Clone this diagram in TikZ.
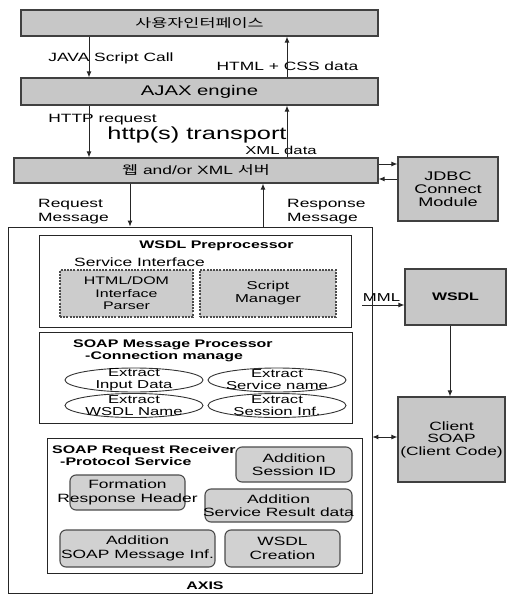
\documentclass[tikz,border=0pt]{standalone}
\usepackage{fontspec}
\setmainfont{Liberation Sans}[FakeStretch=1.45]
\newfontfamily\krfont{Noto Sans CJK KR}[FakeStretch=1.45]
\usetikzlibrary{calc,arrows.meta}
\tikzset{
  layer/.style={draw=black!75, fill=black!22, line width=1.2pt, inner sep=0pt, align=center, font=\fontsize{12}{13}\selectfont},
  frame/.style={draw=black!85, line width=0.8pt, inner sep=0pt},
  dbox/.style={draw=black!70, fill=black!20, line width=1.1pt, dash pattern=on 2pt off 1.2pt, inner sep=0pt, align=center, font=\fontsize{11}{12.5}\selectfont},
  rbox/.style={draw=black!70, fill=black!18, line width=1.1pt, rounded corners=6pt, inner sep=0pt},
  ell/.style={draw=black!80, line width=0.9pt},
  txt/.style={font=\fontsize{12}{13.5}\selectfont, align=center, inner sep=0pt},
  small/.style={font=\fontsize{11.5}{12}\selectfont, align=center, inner sep=0pt},
  title/.style={font=\bfseries\fontsize{11}{12}\selectfont, align=left, inner sep=0pt},
  arr/.style={-{Latex[length=6pt,width=5pt]}, line width=0.9pt, black!85},
}
\newcommand{\procbox}[5]{\node[rbox, minimum width=#3, minimum height=#4] (#1) at (#2) {};
  \node[txt] (#1-t) at (#1) {#5};}
\newcommand{\extract}[3]{\draw[ell] (#2) ellipse [x radius=69, y radius=12];
  \node[small] (#1) at (#2) {#3};}

\begin{document}
\begin{tikzpicture}[x=1pt, y=-1pt]
    \useasboundingbox (0,0) rectangle (506,596);
    % client side layers
    \node[layer, minimum width=357, minimum height=26] (ui) at (199.5,23) {\krfont 사용자인터페이스};
    \node[layer, minimum width=357, minimum height=27, font=\fontsize{14}{16}\selectfont] (ajax) at (199.5,91.5) {AJAX engine};
    \node[layer, minimum width=364, minimum height=25] (server) at (196,170.5) {{\krfont 웹} and/or XML {\krfont 서버}};
    \node[layer, minimum width=100, minimum height=64, font=\fontsize{12.5}{13}\selectfont] (jdbc) at (448,189) {JDBC\\Connect\\Module};
    % layer labels
    \node[txt] (jcall) at (111,58) {JAVA Script Call};
    \node[txt] (htmlcss) at (287.5,66) {HTML + CSS data};
    \node[txt] (httpreq) at (102.5,120) {HTTP request};
    \node[txt, font=\fontsize{17.5}{18}\selectfont] (trans) at (197,135) {http(s) transport};
    \node[small] (xmld) at (281,150) {XML data};
    \node[txt, align=left, anchor=west] (reqm) at (38,211.5) {Request\\Message};
    \node[txt, align=left, anchor=west] (resm) at (287,211.5) {Response\\Message};
    % AXIS
    \node[frame, minimum width=364, minimum height=366] (axis) at (190,410) {};
    \node[title] (axis-t) at (205,586) {AXIS};
    % WSDL preprocessor
    \node[frame, minimum width=312, minimum height=92] (prep) at (195,281) {};
    \node[title] (prep-t) at (216.5,246) {WSDL Preprocessor};
    \node[txt] (svc) at (139.5,262) {Service Interface};
    \node[dbox, minimum width=133, minimum height=47] (parser) at (126.5,293.5) {HTML/DOM\\Interface\\Parser};
    \node[dbox, minimum width=136, minimum height=47, font=\fontsize{11.5}{13}\selectfont] (script) at (268,293.5) {Script\\Manager};
    % SOAP message processor
    \node[frame, minimum width=313, minimum height=91] (msg) at (195.5,377.5) {};
    \node[title, anchor=west] (msg-t) at (73,351) {SOAP Message Processor\\\hspace*{12pt}-Connection manage};
    \extract{inp}{134,380}{Extract\\Input Data}
    \extract{sname}{277,380}{Extract\\Service name}
    \extract{wname}{134,405.5}{Extract\\WSDL Name}
    \extract{sinf}{277,405.5}{Extract\\Session Inf.}
    % SOAP request receiver
    \node[frame, minimum width=315, minimum height=135] (recv) at (204.5,505.5) {};
    \node[title, anchor=west] (recv-t) at (52,456) {SOAP Request Receiver\\\hspace*{8pt}-Protocol Service};
    \procbox{sid}{294,464.5}{116}{35}{Addition\\Session ID}
    \procbox{form}{127.5,492.5}{115}{35}{Formation\\Response Header}
    \procbox{res}{278.5,505.5}{147}{33}{Addition\\Service Result data}
    \procbox{inf}{137.5,548.5}{155}{37}{Addition\\SOAP Message Inf.}
    \procbox{crt}{282.5,548.5}{115}{37}{WSDL\\Creation}
    % right side
    \node[layer, minimum width=101, minimum height=56, font=\bfseries\fontsize{11}{13}\selectfont] (wsdl) at (455.5,297) {WSDL};
    \node[layer, minimum width=107, minimum height=85, font=\fontsize{12}{12.5}\selectfont] (client) at (451.5,439.5) {Client\\SOAP\\(Client Code)};
    \node[small] (mml-t) at (381.5,298) {MML};
    % connectors
    \coordinate (l1) at (89,0);
    \coordinate (r1) at (287,0);
    \coordinate (j1) at (0,164);
    \coordinate (j2) at (0,179);
    \coordinate (rq) at (130,0);
    \coordinate (rs) at (263,0);
    \coordinate (mml) at (362,305);
    \coordinate (ws) at (450,0);
    \coordinate (cs) at (0,437);
    \draw[arr] (l1 |- ui.south) -- (l1 |- ajax.north);
    \draw[arr] (r1 |- ajax.north) -- (r1 |- ui.south);
    \draw[arr] (l1 |- ajax.south) -- (l1 |- server.north);
    \draw[arr] (r1 |- server.north) -- (r1 |- ajax.south);
    \draw[arr] (server.east |- j1) -- (jdbc.west |- j1);
    \draw[arr] (jdbc.west |- j2) -- (server.east |- j2);
    \draw[arr] (rq |- server.south) -- (rq |- axis.north);
    \draw[arr] (rs |- axis.north) -- (rs |- server.south);
    \draw[arr] (mml) -- (wsdl.west |- mml);
    \draw[arr] (ws |- wsdl.south) -- (ws |- client.north);
    \draw[arr, {Latex[length=6pt,width=5pt]}-{Latex[length=6pt,width=5pt]}] (axis.east |- cs) -- (client.west |- cs);
\end{tikzpicture}
\end{document}
